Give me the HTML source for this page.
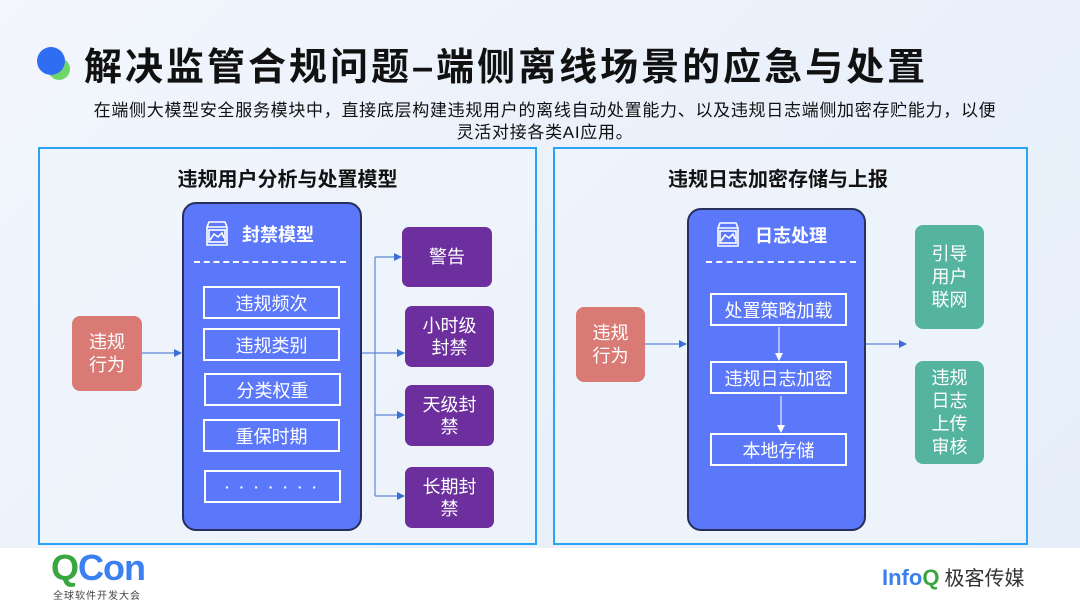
<!DOCTYPE html>
<html><head><meta charset="utf-8"><style>
*{margin:0;padding:0;box-sizing:border-box}
body{width:1080px;height:605px;position:relative;overflow:hidden;font-family:"Liberation Sans","Noto Sans CJK SC",sans-serif;background:linear-gradient(135deg,#f3f6fc 0%,#eaf1fb 50%,#e6eefa 100%)}
.a{position:absolute}
.panel{position:absolute;border:2.5px solid #2aa3f5;background:rgba(240,245,252,0.6)}
.pt{position:absolute;font-weight:bold;font-size:20px;color:#111;text-align:center}
.blue{position:absolute;background:#5b78fb;border:2px solid #26305a;border-radius:14px}
.ib{position:absolute;border:2px solid #fff;color:#fff;font-size:18px;display:flex;align-items:center;justify-content:center}
.red{position:absolute;background:#d97a74;border-radius:8px;color:#fff;font-size:18px;line-height:23px;display:flex;align-items:center;justify-content:center;text-align:center}
.pur{position:absolute;background:#6c2f9d;border-radius:7px;color:#fff;font-size:18px;line-height:22px;display:flex;align-items:center;justify-content:center;text-align:center}
.grn{position:absolute;background:#55b4a0;border-radius:8px;color:#fff;font-size:18px;line-height:23px;display:flex;align-items:center;justify-content:center;text-align:center}
.dash{position:absolute;border-top:2px dashed #fff}
.ht{position:absolute;color:#fff;font-weight:bold;font-size:18px}
</style></head><body>
<div class="a" style="left:48px;top:58px;width:22px;height:22px;border-radius:50%;background:#6fd66a"></div>
<div class="a" style="left:37px;top:47px;width:28px;height:28px;border-radius:50%;background:#2f6ef2"></div>
<div class="a" style="left:84px;top:36px;font-size:38px;font-weight:bold;color:#111;white-space:nowrap;letter-spacing:3px">解决监管合规问题–端侧离线场景的应急与处置</div>
<div class="a" style="left:40px;top:100px;width:1010px;font-size:17px;letter-spacing:0.7px;line-height:22px;color:#111;text-align:center">在端侧大模型安全服务模块中，直接底层构建违规用户的离线自动处置能力、以及违规日志端侧加密存贮能力，以便<br>灵活对接各类AI应用。</div>

<div class="panel" style="left:38px;top:147px;width:499px;height:398px"></div>
<div class="panel" style="left:553px;top:147px;width:475px;height:398px"></div>
<div class="pt" style="left:38px;top:163px;width:499px">违规用户分析与处置模型</div>
<div class="pt" style="left:553px;top:163px;width:450px">违规日志加密存储与上报</div>

<div class="blue" style="left:182px;top:202px;width:180px;height:329px"></div>
<svg class="a" style="left:204px;top:220px" width="26" height="27" viewBox="0 0 26 27" fill="none" stroke="#fff" stroke-width="1.6"><path d="M3 7 L5 2 H21 L23 7 V25 H3 Z M3 7 H23"/><rect x="5" y="10" width="16" height="12"/><path d="M6 20 L10 14 L14 17 L18 13 L20 18"/></svg>
<div class="ht" style="left:242px;top:221px">封禁模型</div>
<div class="dash" style="left:194px;top:261px;width:152px"></div>
<div class="ib" style="left:203px;top:286px;width:137px;height:33px">违规频次</div>
<div class="ib" style="left:203px;top:328px;width:137px;height:33px">违规类别</div>
<div class="ib" style="left:204px;top:373px;width:137px;height:33px">分类权重</div>
<div class="ib" style="left:203px;top:419px;width:137px;height:33px">重保时期</div>
<div class="ib" style="left:204px;top:470px;width:137px;height:33px;letter-spacing:3px;font-size:14px;font-weight:bold">· · · · · · ·</div>
<div class="red" style="left:72px;top:316px;width:70px;height:75px">违规<br>行为</div>
<div class="pur" style="left:402px;top:227px;width:90px;height:60px">警告</div>
<div class="pur" style="left:405px;top:306px;width:89px;height:61px">小时级<br>封禁</div>
<div class="pur" style="left:405px;top:385px;width:89px;height:61px">天级封<br>禁</div>
<div class="pur" style="left:405px;top:467px;width:89px;height:61px">长期封<br>禁</div>

<div class="blue" style="left:687px;top:208px;width:179px;height:323px"></div>
<svg class="a" style="left:715px;top:221px" width="26" height="27" viewBox="0 0 26 27" fill="none" stroke="#fff" stroke-width="1.6"><path d="M3 7 L5 2 H21 L23 7 V25 H3 Z M3 7 H23"/><rect x="5" y="10" width="16" height="12"/><path d="M6 20 L10 14 L14 17 L18 13 L20 18"/></svg>
<div class="ht" style="left:755px;top:222px">日志处理</div>
<div class="dash" style="left:706px;top:261px;width:150px"></div>
<div class="ib" style="left:710px;top:293px;width:137px;height:33px">处置策略加载</div>
<div class="ib" style="left:710px;top:361px;width:137px;height:33px">违规日志加密</div>
<div class="ib" style="left:710px;top:433px;width:137px;height:33px">本地存储</div>
<div class="red" style="left:576px;top:307px;width:69px;height:75px">违规<br>行为</div>
<div class="grn" style="left:915px;top:225px;width:69px;height:104px">引导<br>用户<br>联网</div>
<div class="grn" style="left:915px;top:361px;width:69px;height:103px">违规<br>日志<br>上传<br>审核</div>

<svg class="a" style="left:0;top:0" width="1080" height="605">
<defs><marker id="m" markerWidth="8" markerHeight="8" refX="7" refY="4" orient="auto" markerUnits="userSpaceOnUse"><path d="M0,0 L8,4 L0,8 Z" fill="#3d6fd6"/></marker>
<marker id="w" markerWidth="8" markerHeight="8" refX="7" refY="4" orient="auto" markerUnits="userSpaceOnUse"><path d="M0,0 L8,4 L0,8 Z" fill="#fff"/></marker></defs>
<g stroke="#5d86d8" stroke-width="1.2" fill="none">
<line x1="142" y1="353" x2="181" y2="353" marker-end="url(#m)"/>
<line x1="362" y1="353" x2="375" y2="353"/>
<line x1="375" y1="257" x2="375" y2="496"/>
<line x1="375" y1="257" x2="401" y2="257" marker-end="url(#m)"/>
<line x1="375" y1="353" x2="404" y2="353" marker-end="url(#m)"/>
<line x1="375" y1="415" x2="404" y2="415" marker-end="url(#m)"/>
<line x1="375" y1="496" x2="404" y2="496" marker-end="url(#m)"/>
<line x1="645" y1="344" x2="686" y2="344" marker-end="url(#m)"/>
<line x1="866" y1="344" x2="906" y2="344" marker-end="url(#m)"/>
</g>
<g stroke="#fff" stroke-width="1" fill="none">
<line x1="779" y1="327" x2="779" y2="360" marker-end="url(#w)"/>
<line x1="781" y1="396" x2="781" y2="432" marker-end="url(#w)"/>
</g>
</svg>

<div class="a" style="left:0;top:548px;width:1080px;height:57px;background:#fff"></div>
<div class="a" style="left:51px;top:548px;font-size:36px;line-height:40px;font-weight:bold;letter-spacing:-1px"><span style="color:#3aa63f">Q</span><span style="color:#3b7ff0">Con</span></div>
<div class="a" style="left:53px;top:587px;font-size:10px;color:#444;letter-spacing:1px">全球软件开发大会</div>
<div class="a" style="left:882px;top:562px;font-size:22px;font-weight:bold;color:#3b7ff0">Info<span style="color:#3aa63f">Q</span><span style="color:#333;font-weight:normal;font-size:20px;margin-left:5px">极客传媒</span></div>
</body></html>
